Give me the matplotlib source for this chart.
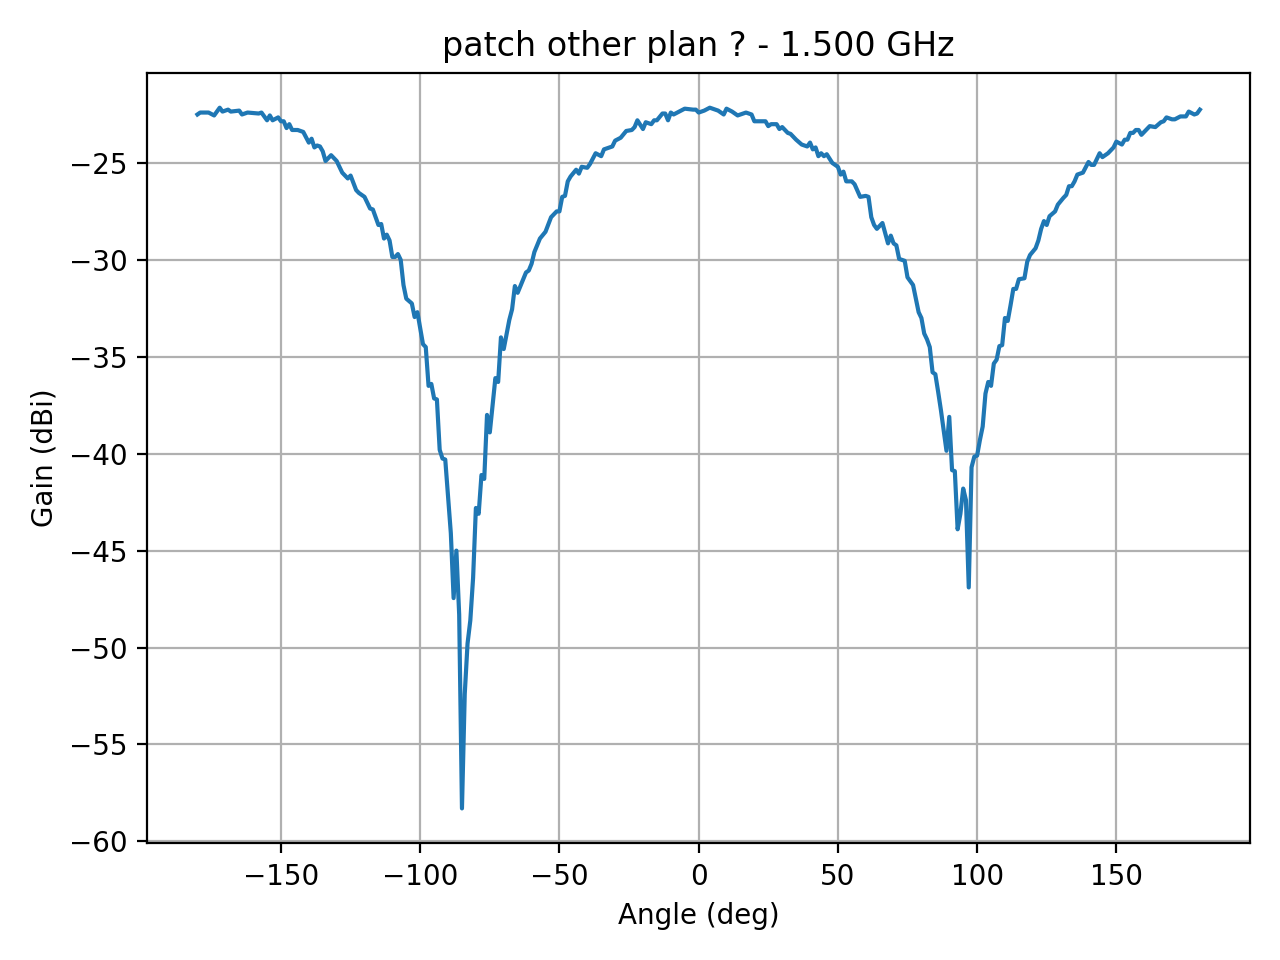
import numpy as np
import matplotlib
matplotlib.use("Agg")
import matplotlib.pyplot as plt

# angle (deg) / gain (dBi)
angle = [-180, -179, -176, -174, -172, -171, -169, -168, -165, -164, -162, -158, -157,
         -155, -154, -153, -151, -150, -149, -148, -147, -146, -144, -142, -140, -139,
         -138, -137, -136, -135, -134, -132, -130, -128, -126, -125, -123, -122, -120,
         -118, -117, -115, -114, -113, -112, -111, -110, -109, -108, -107, -106, -105,
         -103, -102, -101, -99, -98, -97, -96, -95, -94, -93, -92, -91, -89, -88, -87,
         -86, -85, -84, -83, -82, -81, -80, -79, -78, -77, -76, -75, -73, -72, -71, -70,
         -68, -67, -66, -65, -63, -62, -61, -60, -59, -57, -55, -53, -51, -50, -49, -48,
         -47, -46, -44, -43, -42, -40, -39, -37, -35, -34, -31, -30, -28, -26, -24, -23,
         -22, -20, -19, -17, -16, -15, -13, -12, -11, -10, -9, -7, -5, -2, -1, 0, 2, 4,
         6, 7, 9, 10, 12, 14, 16, 17, 18, 19, 20, 22, 24, 25, 26, 28, 29, 30, 32, 33, 35,
         37, 39, 40, 41, 42, 43, 44, 45, 46, 48, 50, 51, 52, 53, 55, 56, 58, 60, 61, 62,
         63, 64, 66, 68, 69, 70, 71, 72, 74, 75, 77, 78, 79, 80, 81, 82, 83, 84, 85, 86,
         87, 88, 89, 90, 91, 92, 93, 94, 95, 96, 97, 98, 99, 100, 101, 102, 103, 104, 105,
         106, 107, 108, 109, 110, 111, 112, 113, 114, 115, 117, 118, 119, 121, 122, 123,
         124, 125, 126, 128, 129, 131, 132, 133, 134, 135, 136, 138, 140, 141, 142, 144,
         145, 147, 149, 150, 152, 153, 154, 155, 156, 157, 158, 159, 161, 162, 164, 166,
         167, 168, 170, 171, 173, 175, 176, 178, 179, 180]
gain = [-22.5, -22.4, -22.4, -22.55, -22.15, -22.35, -22.25, -22.35, -22.3, -22.5, -22.4,
        -22.45, -22.4, -22.8, -22.55, -22.8, -22.65, -22.85, -22.85, -23.2, -23.0, -23.3,
        -23.3, -23.4, -23.95, -23.75, -24.2, -24.1, -24.15, -24.4, -24.9, -24.6, -24.9,
        -25.5, -25.8, -25.65, -26.4, -26.55, -26.75, -27.35, -27.4, -28.2, -28.15, -28.9,
        -28.7, -29.0, -29.85, -29.85, -29.7, -30.0, -31.3, -32.0, -32.25, -32.95, -32.7,
        -34.35, -34.5, -36.5, -36.4, -37.15, -37.2, -39.8, -40.25, -40.3, -44.1, -47.45,
        -45.0, -48.3, -58.3, -52.4, -49.8, -48.6, -46.4, -42.8, -43.1, -41.1, -41.3, -38.0,
        -38.9, -36.1, -36.3, -34.0, -34.6, -33.1, -32.55, -31.35, -31.7, -31.0, -30.65,
        -30.55, -30.2, -29.6, -28.9, -28.55, -27.8, -27.5, -27.5, -26.75, -26.7, -25.95,
        -25.7, -25.35, -25.55, -25.2, -25.25, -25.05, -24.5, -24.65, -24.3, -24.15, -23.85,
        -23.7, -23.35, -23.3, -23.15, -22.8, -23.25, -22.9, -23.0, -22.8, -22.8, -22.45,
        -22.45, -22.8, -22.4, -22.5, -22.35, -22.2, -22.25, -22.25, -22.4, -22.3, -22.15,
        -22.25, -22.3, -22.5, -22.2, -22.35, -22.55, -22.45, -22.4, -22.45, -22.5, -22.85,
        -22.85, -22.85, -23.1, -23.0, -23.0, -23.25, -23.15, -23.45, -23.5, -23.8, -24.05,
        -24.15, -23.95, -24.3, -24.2, -24.65, -24.5, -24.65, -24.55, -25.0, -25.2, -25.6,
        -25.45, -25.95, -25.95, -26.1, -26.75, -26.7, -26.75, -27.8, -28.2, -28.4, -28.1,
        -29.15, -28.75, -29.15, -29.25, -29.95, -30.05, -30.9, -31.3, -32.0, -32.7, -33.0,
        -33.8, -34.1, -34.5, -35.8, -35.9, -36.8, -37.75, -38.8, -39.85, -38.1, -40.85,
        -40.9, -43.9, -43.1, -41.8, -42.4, -46.9, -40.7, -40.15, -40.1, -39.3, -38.6,
        -36.9, -36.3, -36.5, -35.35, -35.15, -34.45, -34.4, -33.0, -33.15, -32.35, -31.5,
        -31.5, -31.0, -30.95, -30.1, -29.75, -29.4, -29.0, -28.4, -28.0, -28.2, -27.75,
        -27.5, -27.15, -26.8, -26.65, -26.2, -26.2, -25.95, -25.6, -25.5, -24.95, -25.1,
        -25.1, -24.5, -24.7, -24.5, -24.2, -23.9, -24.05, -23.8, -23.8, -23.45, -23.45,
        -23.3, -23.3, -23.55, -23.25, -23.1, -23.15, -22.9, -22.85, -22.65, -22.75, -22.75,
        -22.6, -22.6, -22.35, -22.5, -22.45, -22.25]

freq_ghz = 1.5

fig, ax = plt.subplots(figsize=(6.4, 4.8), dpi=200)
ax.plot(angle, gain)
ax.set_title("patch other plan ? - %.3f GHz" % freq_ghz)
ax.set_xlabel("Angle (deg)")
ax.set_ylabel("Gain (dBi)")
ax.grid(True)
fig.tight_layout()
fig.savefig("out.png")
